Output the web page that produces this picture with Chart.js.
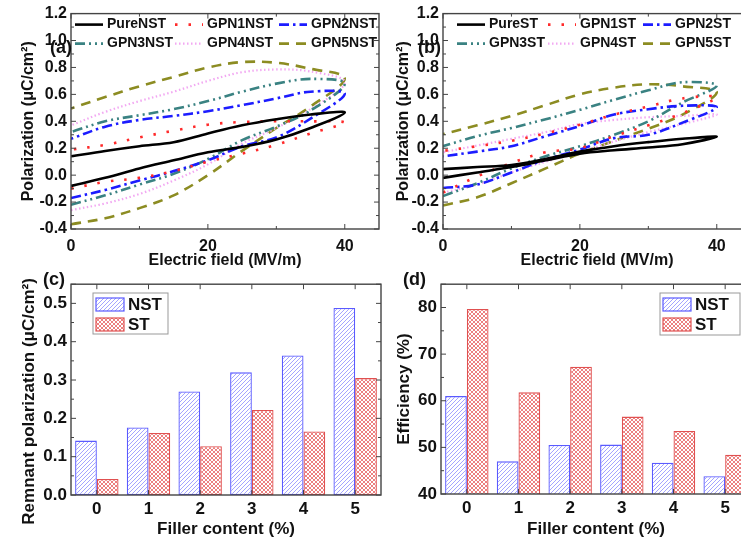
<!DOCTYPE html>
<html>
<head>
<meta charset="utf-8">
<script src="https://cdn.jsdelivr.net/npm/chart.js@4.4.0/dist/chart.umd.min.js"></script>
<style>
html, body { margin: 0; padding: 0; background: #fff; width: 741px; height: 540px; overflow: hidden; position: relative; }
canvas { position: absolute; }
</style>
</head>
<body>
<canvas id="ca" width="386" height="270" style="left:0;top:0"></canvas>
<canvas id="cb" width="386" height="270" style="left:372px;top:0"></canvas>
<canvas id="cc" width="388" height="270" style="left:0;top:270px"></canvas>
<canvas id="cd" width="388" height="270" style="left:370px;top:270px"></canvas>
<script>
// electric field points (MV/m), lower branch goes up, upper branch comes back
var field = [0, 5, 10, 15, 20, 25, 30, 35, 40];

// panel (a) NST loops
var pureNST_lo = [-0.08, -0.02, 0.05, 0.11, 0.17, 0.21, 0.265, 0.35, 0.465];
var pureNST_up = [0.14, 0.18, 0.215, 0.245, 0.31, 0.37, 0.415, 0.45, 0.465];
var gpn1NST_lo = [-0.1, -0.05, -0.02, 0.03, 0.1, 0.16, 0.225, 0.31, 0.39];
var gpn1NST_up = [0.19, 0.225, 0.28, 0.33, 0.375, 0.395, 0.4, 0.4, 0.39];
var gpn2NST_lo = [-0.17, -0.11, -0.04, 0.03, 0.11, 0.215, 0.28, 0.42, 0.605];
var gpn2NST_up = [0.27, 0.36, 0.41, 0.44, 0.475, 0.52, 0.57, 0.62, 0.605];
var gpn3NST_lo = [-0.22, -0.15, -0.07, 0.01, 0.12, 0.26, 0.36, 0.48, 0.68];
var gpn3NST_up = [0.32, 0.4, 0.445, 0.49, 0.55, 0.62, 0.68, 0.715, 0.68];
var gpn4NST_lo = [-0.26, -0.21, -0.14, -0.04, 0.08, 0.235, 0.35, 0.49, 0.69];
var gpn4NST_up = [0.37, 0.47, 0.55, 0.62, 0.7, 0.765, 0.785, 0.77, 0.69];
var gpn5NST_lo = [-0.365, -0.32, -0.245, -0.15, 0.0, 0.18, 0.35, 0.51, 0.72];
var gpn5NST_up = [0.495, 0.58, 0.66, 0.73, 0.8, 0.84, 0.835, 0.79, 0.72];

// panel (b) ST loops
var pureST_lo = [-0.02, 0.02, 0.06, 0.11, 0.16, 0.185, 0.205, 0.23, 0.285];
var pureST_up = [0.045, 0.06, 0.075, 0.12, 0.175, 0.215, 0.245, 0.27, 0.285];
var gpn1ST_lo = [-0.13, -0.01, 0.09, 0.17, 0.2, 0.29, 0.37, 0.46, 0.58];
var gpn1ST_up = [0.18, 0.215, 0.255, 0.31, 0.375, 0.45, 0.51, 0.57, 0.58];
var gpn2ST_lo = [-0.095, -0.07, 0.02, 0.115, 0.19, 0.275, 0.3, 0.39, 0.505];
var gpn2ST_up = [0.14, 0.175, 0.215, 0.29, 0.365, 0.45, 0.49, 0.515, 0.505];
var gpn3ST_lo = [-0.155, -0.06, 0.05, 0.14, 0.215, 0.3, 0.4, 0.54, 0.665];
var gpn3ST_up = [0.215, 0.29, 0.35, 0.415, 0.485, 0.56, 0.63, 0.69, 0.665];
var gpn4ST_lo = [-0.13, -0.07, 0.02, 0.1, 0.17, 0.25, 0.32, 0.38, 0.45];
var gpn4ST_up = [0.17, 0.22, 0.27, 0.32, 0.38, 0.41, 0.43, 0.44, 0.45];
var gpn5ST_lo = [-0.225, -0.165, -0.06, 0.05, 0.16, 0.255, 0.345, 0.45, 0.615];
var gpn5ST_up = [0.305, 0.37, 0.44, 0.52, 0.6, 0.65, 0.675, 0.66, 0.615];

// panels (c) and (d)
var fillerLabels = ['0', '1', '2', '3', '4', '5'];
var remnantNST = [0.142, 0.176, 0.27, 0.32, 0.364, 0.488];
var remnantST = [0.042, 0.162, 0.127, 0.222, 0.166, 0.305];
var effNST = [61, 47, 50.5, 50.6, 46.7, 43.8];
var effST = [79.7, 61.8, 67.3, 56.6, 53.5, 48.4];

var FONT = "'Liberation Sans', Arial, sans-serif";
var TXT = '#111';

// line looks: black solid, red dots, blue dash-dot, teal dash-dot-dot, pink dots, olive dashes
var lineStyles = [
    { color: '#000000', dash: [], width: 2.6 },
    { color: '#ff2a2a', dash: [2.5, 11], width: 2.6 },
    { color: '#1c1cff', dash: [10, 4, 2.5, 4], width: 2.6 },
    { color: '#3a8282', dash: [10, 4, 2, 4, 2, 4], width: 2.6 },
    { color: '#f2a8f2', dash: [1.5, 2.5], width: 2.2 },
    { color: '#8c8c22', dash: [10, 7], width: 2.6 }
];

function loop(lo, up) {
    var pts = [];
    for (var i = 0; i < field.length; i++) pts.push({ x: field[i], y: lo[i] });
    for (var j = field.length - 2; j >= 0; j--) pts.push({ x: field[j], y: up[j] });
    return pts;
}

// box around plot with inward ticks, major + minor
var framePlugin = {
    id: 'frame',
    afterDraw: function (chart, args, o) {
        var ctx = chart.ctx, a = chart.chartArea;
        var xs = chart.scales.x, ys = chart.scales.y;
        ctx.save();
        ctx.strokeStyle = '#444';
        ctx.lineWidth = 1.4;
        ctx.strokeRect(a.left, a.top, a.right - a.left, a.bottom - a.top);
        ctx.lineWidth = 1;
        ctx.beginPath();
        function vt(p, len) { ctx.moveTo(p, a.bottom); ctx.lineTo(p, a.bottom - len); ctx.moveTo(p, a.top); ctx.lineTo(p, a.top + len); }
        function ht(p, len) { ctx.moveTo(a.left, p); ctx.lineTo(a.left + len, p); ctx.moveTo(a.right, p); ctx.lineTo(a.right - len, p); }
        xs.ticks.forEach(function (t, i) { vt(xs.getPixelForTick(i), 5); });
        ys.ticks.forEach(function (t, i) { ht(ys.getPixelForTick(i), 5); });
        if (o.xMinor) {
            for (var v = xs.min + o.xMinor; v < xs.max; v += o.xMinor * 2) vt(xs.getPixelForValue(v), 3);
        }
        if (o.yMinor) {
            for (var w = ys.min + o.yMinor; w < ys.max - 1e-9; w += o.yMinor * 2) ht(ys.getPixelForValue(w), 3);
        }
        ctx.stroke();
        if (o.label) {
            ctx.fillStyle = TXT;
            ctx.font = 'bold 18px ' + FONT;
            ctx.textBaseline = 'middle';
            ctx.fillText(o.label, o.labelX, o.labelY);
        }
        ctx.restore();
    }
};

// legend drawn inside the plot for the loop panels
var lineLegend = {
    id: 'lineLegend',
    afterDraw: function (chart, args, o) {
        if (!o.cols) return;
        var ctx = chart.ctx, a = chart.chartArea;
        ctx.save();
        ctx.font = 'bold 14px ' + FONT;
        ctx.textBaseline = 'middle';
        chart.data.datasets.forEach(function (ds, i) {
            var c = o.cols[i % 3], y = a.top + o.rows[Math.floor(i / 3)];
            var x0 = a.left + c;
            ctx.strokeStyle = ds.borderColor;
            ctx.lineWidth = ds.borderWidth;
            ctx.setLineDash(ds.borderDash);
            ctx.beginPath();
            ctx.moveTo(x0, y);
            ctx.lineTo(x0 + 28, y);
            ctx.stroke();
            ctx.setLineDash([]);
            ctx.fillStyle = TXT;
            ctx.fillText(ds.label, x0 + 32, y);
        });
        ctx.restore();
    }
};

// legend box for the bar panels
var barLegend = {
    id: 'barLegend',
    afterDraw: function (chart, args, o) {
        if (!o.box) return;
        var ctx = chart.ctx, b = o.box;
        ctx.save();
        ctx.strokeStyle = '#999';
        ctx.lineWidth = 1;
        ctx.strokeRect(b[0], b[1], b[2], b[3]);
        ctx.font = 'bold 17px ' + FONT;
        ctx.textBaseline = 'middle';
        chart.data.datasets.forEach(function (ds, i) {
            var y = b[1] + 11 + i * 20;
            ctx.fillStyle = ds.backgroundColor;
            ctx.fillRect(b[0] + 3, y - 6, 28, 13);
            ctx.strokeStyle = ds.borderColor;
            ctx.lineWidth = 1.2;
            ctx.strokeRect(b[0] + 3, y - 6, 28, 13);
            ctx.fillStyle = TXT;
            ctx.fillText(ds.label, b[0] + 35, y + 1);
        });
        ctx.restore();
    }
};

Chart.register(framePlugin, lineLegend, barLegend);

function pattern(color, cross) {
    var t = document.createElement('canvas');
    t.width = 4; t.height = 4;
    var g = t.getContext('2d');
    g.fillStyle = '#fff';
    g.fillRect(0, 0, 4, 4);
    g.strokeStyle = color;
    g.lineWidth = 1;
    g.beginPath();
    g.moveTo(-1, 5); g.lineTo(5, -1);
    g.moveTo(-1, 1); g.lineTo(1, -1);
    g.moveTo(3, 5); g.lineTo(5, 3);
    if (cross) {
        g.moveTo(-1, -1); g.lineTo(5, 5);
        g.moveTo(3, -1); g.lineTo(5, 1);
        g.moveTo(-1, 3); g.lineTo(1, 5);
    }
    g.stroke();
    return g.createPattern(t, 'repeat');
}

function tickFont(size) { return { family: FONT, size: size, weight: 'bold' }; }

function loopChart(id, names, los, ups, legendCols, titlePad, label, labelX) {
    var sets = names.map(function (n, i) {
        var s = lineStyles[i];
        return {
            label: n,
            data: loop(los[i], ups[i]),
            showLine: true,
            borderColor: s.color,
            borderDash: s.dash,
            borderWidth: s.width,
            pointRadius: 0,
            tension: 0.35,
            fill: false
        };
    });
    new Chart(document.getElementById(id), {
        type: 'scatter',
        data: { datasets: sets },
        options: {
            responsive: false,
            animation: false,
            layout: { padding: { top: 13, right: 7, left: 0, bottom: 0 } },
            plugins: {
                legend: { display: false },
                tooltip: { enabled: false },
                frame: { xMinor: 10, yMinor: 0.1, label: label, labelX: labelX, labelY: 48 },
                lineLegend: { cols: legendCols, rows: [11, 30] }
            },
            scales: {
                x: {
                    min: 0, max: 45,
                    afterFit: function (s) { s.height = 41; },
                    afterBuildTicks: function (s) { s.ticks = [0, 20, 40].map(function (v) { return { value: v }; }); },
                    grid: { display: false, drawTicks: false },
                    border: { display: false },
                    ticks: { font: tickFont(16), color: TXT, padding: 8, maxRotation: 0 },
                    title: { display: true, text: 'Electric field (MV/m)', font: tickFont(16), color: TXT, padding: 0 }
                },
                y: {
                    min: -0.4, max: 1.2,
                    afterFit: function (s) { s.width = 71; },
                    grid: { display: false, drawTicks: false },
                    border: { display: false },
                    ticks: { stepSize: 0.2, font: tickFont(16), color: TXT, padding: 4,
                        callback: function (v) { return (Math.round(v * 10) / 10).toFixed(1); } },
                    title: { display: true, text: 'Polarization (μC/cm²)', font: tickFont(16), color: TXT, padding: { top: titlePad, bottom: 0 } }
                }
            }
        }
    });
}

loopChart('ca', ['PureNST', 'GPN1NST', 'GPN2NST', 'GPN3NST', 'GPN4NST', 'GPN5NST'],
    [pureNST_lo, gpn1NST_lo, gpn2NST_lo, gpn3NST_lo, gpn4NST_lo, gpn5NST_lo],
    [pureNST_up, gpn1NST_up, gpn2NST_up, gpn3NST_up, gpn4NST_up, gpn5NST_up],
    [4, 104, 208], 19, '(a)', 50);

loopChart('cb', ['PureST', 'GPN1ST', 'GPN2ST', 'GPN3ST', 'GPN4ST', 'GPN5ST'],
    [pureST_lo, gpn1ST_lo, gpn2ST_lo, gpn3ST_lo, gpn4ST_lo, gpn5ST_lo],
    [pureST_up, gpn1ST_up, gpn2ST_up, gpn3ST_up, gpn4ST_up, gpn5ST_up],
    [14, 105, 200], 22, '(b)', 46);

function barChart(id, nst, st, yOpts, yTitle, titlePad, box, label, labelX) {
    new Chart(document.getElementById(id), {
        type: 'bar',
        data: {
            labels: fillerLabels,
            datasets: [
                { label: 'NST', data: nst, backgroundColor: pattern('#a4a4ff', false), borderColor: '#5a5aff', borderWidth: 1.3, borderSkipped: false },
                { label: 'ST', data: st, backgroundColor: pattern('#ec8080', true), borderColor: '#e05050', borderWidth: 1.3, borderSkipped: false }
            ]
        },
        options: {
            responsive: false,
            animation: false,
            layout: { padding: { top: 13, right: 7, left: 0, bottom: 0 } },
            datasets: { bar: { categoryPercentage: 0.84, barPercentage: 1 } },
            plugins: {
                legend: { display: false },
                tooltip: { enabled: false },
                frame: { yMinor: yOpts.minor, label: label, labelX: labelX, labelY: 10 },
                barLegend: { box: box }
            },
            scales: {
                x: {
                    afterFit: function (s) { s.height = yOpts.xh; },
                    grid: { display: false, drawTicks: false },
                    border: { display: false },
                    ticks: { font: tickFont(17), color: TXT, padding: 4 },
                    title: { display: true, text: 'Filler content (%)', font: tickFont(17), color: TXT, padding: 0 }
                },
                y: {
                    min: yOpts.min, max: yOpts.max,
                    afterFit: function (s) { s.width = 71; },
                    grid: { display: false, drawTicks: false },
                    border: { display: false },
                    ticks: { stepSize: yOpts.step, font: tickFont(17), color: TXT, padding: 4,
                        callback: yOpts.fmt },
                    title: { display: true, text: yTitle, font: tickFont(17), color: TXT, padding: { top: titlePad, bottom: 0 } }
                }
            }
        }
    });
}

// trailing spaces nudge the long rotated title downward, as in the reference
barChart('cc', remnantNST, remnantST,
    { min: 0, max: 0.55, step: 0.1, minor: 0.05, xh: 45,
      fmt: function (v) { return v > 0.52 ? '' : (Math.round(v * 10) / 10).toFixed(1); } },
    'Remnant polarization (μC/cm²)     ', 19, [93, 23, 75, 41], '(c)', 43);

barChart('cd', effNST, effST,
    { min: 40, max: 85, step: 10, minor: 5, xh: 46,
      fmt: function (v) { return v > 82 ? '' : String(v); } },
    'Efficiency (%)', 24, [290, 23, 80, 42], '(d)', 33);
</script>
</body>
</html>
